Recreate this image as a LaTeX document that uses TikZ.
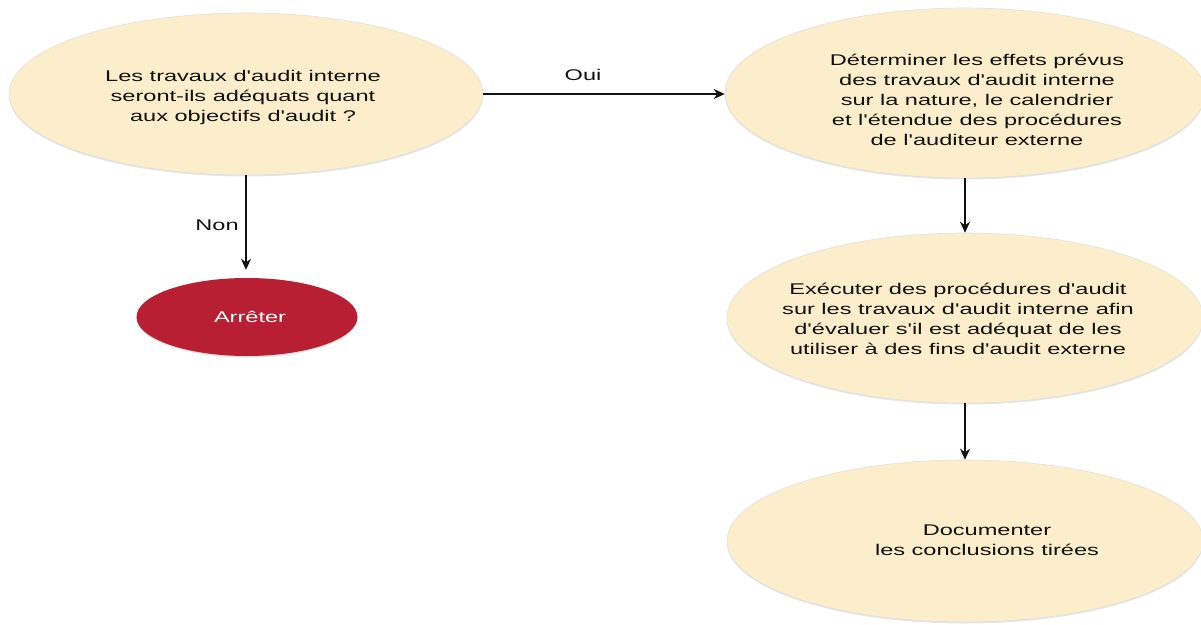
\documentclass[tikz,border=0pt]{standalone}
\usepackage{fontspec}
\setmainfont{Liberation Sans}[FakeStretch=1.52, Ligatures=TeXOff]
\usetikzlibrary{shapes.geometric,arrows.meta,shadows}

\definecolor{cream}{HTML}{FCEECB}
\definecolor{stopred}{HTML}{B81F33}
\definecolor{ink}{HTML}{111111}

\tikzset{
  stepshape/.style={ellipse, fill=cream, draw=black!12, line width=0.6pt, inner sep=0pt,
    drop shadow={opacity=0.2, shadow xshift=0pt, shadow yshift=-1.5pt}},
  endshape/.style={ellipse, fill=stopred, draw=none, inner sep=0pt,
    drop shadow={opacity=0.2, shadow xshift=0pt, shadow yshift=-1.5pt}},
  steptext/.style={align=center, text=ink, inner sep=0pt,
    font=\fontsize{15.5}{20}\selectfont},
  flowarrow/.style={draw=ink, line width=2pt, -{Stealth[length=11pt,width=10pt]}},
  answer/.style={text=ink, inner sep=0pt, font=\fontsize{15.5}{20}\selectfont}
}

\begin{document}
\begin{tikzpicture}[x=1pt,y=-1pt]
  \fill[white] (0,0) rectangle (1201,624);
  \useasboundingbox (0,0) rectangle (1201,624);

  % ellipses
  \node[stepshape, minimum width=474pt, minimum height=162pt] (q) at (246,94) {};
  \node[stepshape, minimum width=480pt, minimum height=170pt] (eff) at (965,93) {};
  \node[stepshape, minimum width=476pt, minimum height=170pt] (proc) at (965,318) {};
  \node[stepshape, minimum width=476pt, minimum height=162pt] (doc) at (965,541) {};
  \node[endshape, minimum width=221pt, minimum height=78pt] (stop) at (247,317) {};

  % texts
  \node[steptext] (qt) at (243,97) {Les travaux d'audit interne\\seront-ils adéquats quant\\aux objectifs d'audit ?};
  \node[steptext] (efft) at (977,100) {Déterminer les effets prévus\\des travaux d'audit interne\\sur la nature, le calendrier\\et l'étendue des procédures\\de l'auditeur externe};
  \node[steptext] (proct) at (958,319) {Exécuter des procédures d'audit\\sur les travaux d'audit interne afin\\d'évaluer s'il est adéquat de les\\utiliser à des fins d'audit externe};
  \node[steptext] (doct) at (987,540) {Documenter\\les conclusions tirées};
  \node[steptext, text=white] (stopt) at (250,317) {Arrêter};

  % connectors
  \draw[flowarrow] (q.east) -- (q.east -| eff.west);
  \draw[flowarrow, shorten >=8pt] (q.south) -- (q.south |- stop.north);
  \draw[flowarrow] (eff.south) -- (proc.north);
  \draw[flowarrow] (proc.south) -- (doc.north);

  % answer labels
  \node[answer] (yes) at (583,75) {Oui};
  \node[answer] (no) at (217,225) {Non};
\end{tikzpicture}
\end{document}
